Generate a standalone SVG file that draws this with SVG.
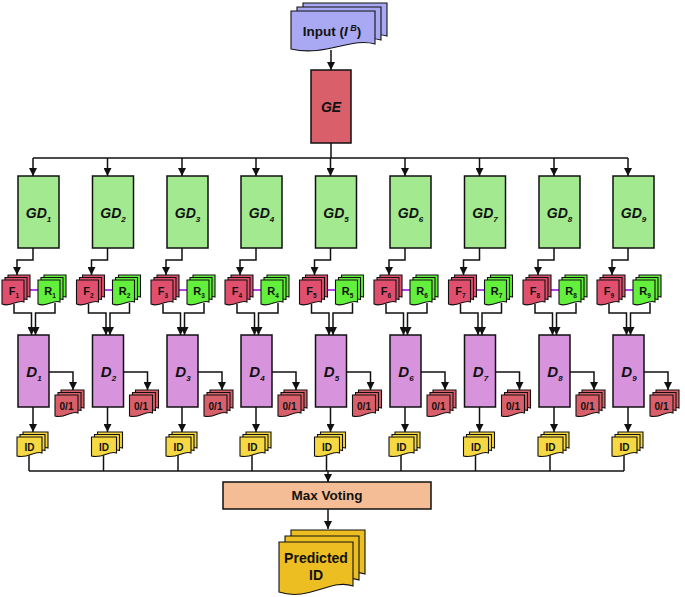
<svg xmlns="http://www.w3.org/2000/svg" xmlns:xlink="http://www.w3.org/1999/xlink" width="685" height="597" viewBox="0 0 685 597">
<style>
text{font-family:"Liberation Sans",Arial,sans-serif;font-weight:bold;fill:#111;text-anchor:middle}
.box{stroke:#111;stroke-width:1.5}
.gd{fill:#a3e98f}
.d{fill:#d793dc}
.lab{font-size:14px;font-style:italic}
.dl{font-size:15px;font-style:italic}
.sub{font-size:8px}
.fr{font-size:11px}
.fs{font-size:6.5px}
.sm{font-size:10px}
.con{fill:none;stroke:#111;stroke-width:1.5}
.pur{stroke:#b043e6;stroke-width:2}
.sh{stroke:#111;stroke-width:1.1}
</style>
<defs>
<marker id="ah" markerUnits="userSpaceOnUse" markerWidth="8" markerHeight="8" refX="8" refY="4" orient="auto">
<path d="M0,0 L8,4 L0,8 Z" fill="#111"/>
</marker>
<path id="sF" d="M0,0 H22 V22 C15,19 9,28 0,24 Z"/>
<path id="sZ" d="M0,0 H23 V18 C16,15 10,24 0,21 Z"/>
<path id="sI" d="M0,0 H25 V16 C18,13 11,22 0,19 Z"/>
<g id="fst" class="sh" fill="#e0506e">
<use xlink:href="#sF" x="6" y="-5"/><use xlink:href="#sF" x="3" y="-2.5"/><use xlink:href="#sF"/>
</g>
<g id="rst" class="sh" fill="#62f03c">
<use xlink:href="#sF" x="6" y="-5"/><use xlink:href="#sF" x="3" y="-2.5"/><use xlink:href="#sF"/>
</g>
<g id="zst" class="sh" fill="#d9606a">
<use xlink:href="#sZ" x="6" y="-5"/><use xlink:href="#sZ" x="3" y="-2.5"/><use xlink:href="#sZ"/>
</g>
<g id="ist" class="sh" fill="#f6d843">
<use xlink:href="#sI" x="6" y="-5"/><use xlink:href="#sI" x="3" y="-2.5"/><use xlink:href="#sI"/>
</g>
</defs>
<rect width="685" height="597" fill="#fff"/>

<g id="connectors">
<path class="con" d="M331,50 V70" marker-end="url(#ah)"/>
<path class="con" d="M331,143 V158 M33,158 H628"/>
<path class="con" d="M29,471 H624"/>
<path class="con" d="M328,471 V482" marker-end="url(#ah)"/>
<path class="con" d="M328,509 V529" marker-end="url(#ah)"/>
<!-- col1 -->
<path class="con" d="M33,158 V176" marker-end="url(#ah)"/>
<path class="con" d="M33,248 V260 H17 V275" marker-end="url(#ah)"/>
<path class="con" d="M14,304 V313 H31.5 V335" marker-end="url(#ah)"/>
<path class="con" d="M55,303 V313 H35.5 V335" marker-end="url(#ah)"/>
<path class="con" d="M49,372 H73 V390" marker-end="url(#ah)"/>
<path class="con" d="M33,407 V432" marker-end="url(#ah)"/>
<path class="con" d="M29,455 V471"/>
<line class="pur" x1="30" y1="290" x2="38" y2="290"/>
<!-- col2 -->
<path class="con" d="M107.5,158 V176" marker-end="url(#ah)"/>
<path class="con" d="M107.5,248 V260 H91.5 V275" marker-end="url(#ah)"/>
<path class="con" d="M88.5,304 V313 H106 V335" marker-end="url(#ah)"/>
<path class="con" d="M129.5,303 V313 H110 V335" marker-end="url(#ah)"/>
<path class="con" d="M123.5,372 H147.5 V390" marker-end="url(#ah)"/>
<path class="con" d="M107.5,407 V432" marker-end="url(#ah)"/>
<path class="con" d="M103.5,455 V471"/>
<line class="pur" x1="104.5" y1="290" x2="112.5" y2="290"/>
<!-- col3 -->
<path class="con" d="M182,158 V176" marker-end="url(#ah)"/>
<path class="con" d="M182,248 V260 H166 V275" marker-end="url(#ah)"/>
<path class="con" d="M163,304 V313 H180.5 V335" marker-end="url(#ah)"/>
<path class="con" d="M204,303 V313 H184.5 V335" marker-end="url(#ah)"/>
<path class="con" d="M198,372 H222 V390" marker-end="url(#ah)"/>
<path class="con" d="M182,407 V432" marker-end="url(#ah)"/>
<path class="con" d="M178,455 V471"/>
<line class="pur" x1="179" y1="290" x2="187" y2="290"/>
<!-- col4 -->
<path class="con" d="M256,158 V176" marker-end="url(#ah)"/>
<path class="con" d="M256,248 V260 H240 V275" marker-end="url(#ah)"/>
<path class="con" d="M237,304 V313 H254.5 V335" marker-end="url(#ah)"/>
<path class="con" d="M278,303 V313 H258.5 V335" marker-end="url(#ah)"/>
<path class="con" d="M272,372 H296 V390" marker-end="url(#ah)"/>
<path class="con" d="M256,407 V432" marker-end="url(#ah)"/>
<path class="con" d="M252,455 V471"/>
<line class="pur" x1="253" y1="290" x2="261" y2="290"/>
<!-- col5 -->
<path class="con" d="M330.5,158 V176" marker-end="url(#ah)"/>
<path class="con" d="M330.5,248 V260 H314.5 V275" marker-end="url(#ah)"/>
<path class="con" d="M311.5,304 V313 H329 V335" marker-end="url(#ah)"/>
<path class="con" d="M352.5,303 V313 H333 V335" marker-end="url(#ah)"/>
<path class="con" d="M346.5,372 H370.5 V390" marker-end="url(#ah)"/>
<path class="con" d="M330.5,407 V432" marker-end="url(#ah)"/>
<path class="con" d="M326.5,455 V471"/>
<line class="pur" x1="327.5" y1="290" x2="335.5" y2="290"/>
<!-- col6 -->
<path class="con" d="M405,158 V176" marker-end="url(#ah)"/>
<path class="con" d="M405,248 V260 H389 V275" marker-end="url(#ah)"/>
<path class="con" d="M386,304 V313 H403.5 V335" marker-end="url(#ah)"/>
<path class="con" d="M427,303 V313 H407.5 V335" marker-end="url(#ah)"/>
<path class="con" d="M421,372 H445 V390" marker-end="url(#ah)"/>
<path class="con" d="M405,407 V432" marker-end="url(#ah)"/>
<path class="con" d="M401,455 V471"/>
<line class="pur" x1="402" y1="290" x2="410" y2="290"/>
<!-- col7 -->
<path class="con" d="M479.5,158 V176" marker-end="url(#ah)"/>
<path class="con" d="M479.5,248 V260 H463.5 V275" marker-end="url(#ah)"/>
<path class="con" d="M460.5,304 V313 H478 V335" marker-end="url(#ah)"/>
<path class="con" d="M501.5,303 V313 H482 V335" marker-end="url(#ah)"/>
<path class="con" d="M495.5,372 H519.5 V390" marker-end="url(#ah)"/>
<path class="con" d="M479.5,407 V432" marker-end="url(#ah)"/>
<path class="con" d="M475.5,455 V471"/>
<line class="pur" x1="476.5" y1="290" x2="484.5" y2="290"/>
<!-- col8 -->
<path class="con" d="M554,158 V176" marker-end="url(#ah)"/>
<path class="con" d="M554,248 V260 H538 V275" marker-end="url(#ah)"/>
<path class="con" d="M535,304 V313 H552.5 V335" marker-end="url(#ah)"/>
<path class="con" d="M576,303 V313 H556.5 V335" marker-end="url(#ah)"/>
<path class="con" d="M570,372 H594 V390" marker-end="url(#ah)"/>
<path class="con" d="M554,407 V432" marker-end="url(#ah)"/>
<path class="con" d="M550,455 V471"/>
<line class="pur" x1="551" y1="290" x2="559" y2="290"/>
<!-- col9 -->
<path class="con" d="M628,158 V176" marker-end="url(#ah)"/>
<path class="con" d="M628,248 V260 H612 V275" marker-end="url(#ah)"/>
<path class="con" d="M609,304 V313 H626.5 V335" marker-end="url(#ah)"/>
<path class="con" d="M650,303 V313 H630.5 V335" marker-end="url(#ah)"/>
<path class="con" d="M644,372 H668 V390" marker-end="url(#ah)"/>
<path class="con" d="M628,407 V432" marker-end="url(#ah)"/>
<path class="con" d="M624,455 V471"/>
<line class="pur" x1="625" y1="290" x2="633" y2="290"/>
</g>

<g id="input">
<g class="sh" fill="#a8a8f3" stroke-width="1.3">
<path d="M303,3 H387 V36 C363,29 338,49 303,41 Z"/>
<path d="M297,7 H381 V40 C357,33 332,53 297,45 Z"/>
<path d="M291,11 H375 V44 C351,37 326,57 291,49 Z"/>
</g>
<text x="332" y="36" font-size="13.5">Input (<tspan font-style="italic">I</tspan><tspan font-style="italic" font-size="9" dy="-5"> B</tspan><tspan dy="5">)</tspan></text>
</g>

<g id="GE">
<rect class="box" x="311" y="70" width="40" height="73" fill="#d95f6b"/>
<text class="lab" x="331" y="112">GE</text>
</g>

<g id="GD1"><rect class="box gd" x="18" y="176" width="41" height="72"/><text class="lab" x="38.5" y="218">GD<tspan class="sub" dy="4">1</tspan></text></g>
<g id="GD2"><rect class="box gd" x="92.5" y="176" width="41" height="72"/><text class="lab" x="113" y="218">GD<tspan class="sub" dy="4">2</tspan></text></g>
<g id="GD3"><rect class="box gd" x="167" y="176" width="41" height="72"/><text class="lab" x="187.5" y="218">GD<tspan class="sub" dy="4">3</tspan></text></g>
<g id="GD4"><rect class="box gd" x="241" y="176" width="41" height="72"/><text class="lab" x="261.5" y="218">GD<tspan class="sub" dy="4">4</tspan></text></g>
<g id="GD5"><rect class="box gd" x="315.5" y="176" width="41" height="72"/><text class="lab" x="336" y="218">GD<tspan class="sub" dy="4">5</tspan></text></g>
<g id="GD6"><rect class="box gd" x="390" y="176" width="41" height="72"/><text class="lab" x="410.5" y="218">GD<tspan class="sub" dy="4">6</tspan></text></g>
<g id="GD7"><rect class="box gd" x="464.5" y="176" width="41" height="72"/><text class="lab" x="485" y="218">GD<tspan class="sub" dy="4">7</tspan></text></g>
<g id="GD8"><rect class="box gd" x="539" y="176" width="41" height="72"/><text class="lab" x="559.5" y="218">GD<tspan class="sub" dy="4">8</tspan></text></g>
<g id="GD9"><rect class="box gd" x="613" y="176" width="41" height="72"/><text class="lab" x="633.5" y="218">GD<tspan class="sub" dy="4">9</tspan></text></g>

<g id="F1"><use xlink:href="#fst" x="2" y="280"/><text class="fr" x="14" y="295">F<tspan class="fs" dy="3">1</tspan></text></g>
<g id="R1"><use xlink:href="#rst" x="38" y="280"/><text class="fr" x="50" y="295">R<tspan class="fs" dy="3">1</tspan></text></g>
<g id="F2"><use xlink:href="#fst" x="76.5" y="280"/><text class="fr" x="88.5" y="295">F<tspan class="fs" dy="3">2</tspan></text></g>
<g id="R2"><use xlink:href="#rst" x="112.5" y="280"/><text class="fr" x="124.5" y="295">R<tspan class="fs" dy="3">2</tspan></text></g>
<g id="F3"><use xlink:href="#fst" x="151" y="280"/><text class="fr" x="163" y="295">F<tspan class="fs" dy="3">3</tspan></text></g>
<g id="R3"><use xlink:href="#rst" x="187" y="280"/><text class="fr" x="199" y="295">R<tspan class="fs" dy="3">3</tspan></text></g>
<g id="F4"><use xlink:href="#fst" x="225" y="280"/><text class="fr" x="237" y="295">F<tspan class="fs" dy="3">4</tspan></text></g>
<g id="R4"><use xlink:href="#rst" x="261" y="280"/><text class="fr" x="273" y="295">R<tspan class="fs" dy="3">4</tspan></text></g>
<g id="F5"><use xlink:href="#fst" x="299.5" y="280"/><text class="fr" x="311.5" y="295">F<tspan class="fs" dy="3">5</tspan></text></g>
<g id="R5"><use xlink:href="#rst" x="335.5" y="280"/><text class="fr" x="347.5" y="295">R<tspan class="fs" dy="3">5</tspan></text></g>
<g id="F6"><use xlink:href="#fst" x="374" y="280"/><text class="fr" x="386" y="295">F<tspan class="fs" dy="3">6</tspan></text></g>
<g id="R6"><use xlink:href="#rst" x="410" y="280"/><text class="fr" x="422" y="295">R<tspan class="fs" dy="3">6</tspan></text></g>
<g id="F7"><use xlink:href="#fst" x="448.5" y="280"/><text class="fr" x="460.5" y="295">F<tspan class="fs" dy="3">7</tspan></text></g>
<g id="R7"><use xlink:href="#rst" x="484.5" y="280"/><text class="fr" x="496.5" y="295">R<tspan class="fs" dy="3">7</tspan></text></g>
<g id="F8"><use xlink:href="#fst" x="523" y="280"/><text class="fr" x="535" y="295">F<tspan class="fs" dy="3">8</tspan></text></g>
<g id="R8"><use xlink:href="#rst" x="559" y="280"/><text class="fr" x="571" y="295">R<tspan class="fs" dy="3">8</tspan></text></g>
<g id="F9"><use xlink:href="#fst" x="597" y="280"/><text class="fr" x="609" y="295">F<tspan class="fs" dy="3">9</tspan></text></g>
<g id="R9"><use xlink:href="#rst" x="633" y="280"/><text class="fr" x="645" y="295">R<tspan class="fs" dy="3">9</tspan></text></g>

<g id="D1"><rect class="box d" x="18" y="335" width="31" height="72"/><text class="dl" x="34" y="377">D<tspan class="sub" dy="4">1</tspan></text></g>
<g id="D2"><rect class="box d" x="92.5" y="335" width="31" height="72"/><text class="dl" x="108.5" y="377">D<tspan class="sub" dy="4">2</tspan></text></g>
<g id="D3"><rect class="box d" x="167" y="335" width="31" height="72"/><text class="dl" x="183" y="377">D<tspan class="sub" dy="4">3</tspan></text></g>
<g id="D4"><rect class="box d" x="241" y="335" width="31" height="72"/><text class="dl" x="257" y="377">D<tspan class="sub" dy="4">4</tspan></text></g>
<g id="D5"><rect class="box d" x="315.5" y="335" width="31" height="72"/><text class="dl" x="331.5" y="377">D<tspan class="sub" dy="4">5</tspan></text></g>
<g id="D6"><rect class="box d" x="390" y="335" width="31" height="72"/><text class="dl" x="406" y="377">D<tspan class="sub" dy="4">6</tspan></text></g>
<g id="D7"><rect class="box d" x="464.5" y="335" width="31" height="72"/><text class="dl" x="480.5" y="377">D<tspan class="sub" dy="4">7</tspan></text></g>
<g id="D8"><rect class="box d" x="539" y="335" width="31" height="72"/><text class="dl" x="555" y="377">D<tspan class="sub" dy="4">8</tspan></text></g>
<g id="D9"><rect class="box d" x="613" y="335" width="31" height="72"/><text class="dl" x="629" y="377">D<tspan class="sub" dy="4">9</tspan></text></g>

<g id="O1"><use xlink:href="#zst" x="55" y="395"/><text class="sm" x="66.5" y="410">0/1</text></g>
<g id="O2"><use xlink:href="#zst" x="129.5" y="395"/><text class="sm" x="141" y="410">0/1</text></g>
<g id="O3"><use xlink:href="#zst" x="204" y="395"/><text class="sm" x="215.5" y="410">0/1</text></g>
<g id="O4"><use xlink:href="#zst" x="278" y="395"/><text class="sm" x="289.5" y="410">0/1</text></g>
<g id="O5"><use xlink:href="#zst" x="352.5" y="395"/><text class="sm" x="364" y="410">0/1</text></g>
<g id="O6"><use xlink:href="#zst" x="427" y="395"/><text class="sm" x="438.5" y="410">0/1</text></g>
<g id="O7"><use xlink:href="#zst" x="501.5" y="395"/><text class="sm" x="513" y="410">0/1</text></g>
<g id="O8"><use xlink:href="#zst" x="576" y="395"/><text class="sm" x="587.5" y="410">0/1</text></g>
<g id="O9"><use xlink:href="#zst" x="650" y="395"/><text class="sm" x="661.5" y="410">0/1</text></g>

<g id="ID1"><use xlink:href="#ist" x="17" y="437"/><text class="sm" x="29.5" y="451">ID</text></g>
<g id="ID2"><use xlink:href="#ist" x="91.5" y="437"/><text class="sm" x="104" y="451">ID</text></g>
<g id="ID3"><use xlink:href="#ist" x="166" y="437"/><text class="sm" x="178.5" y="451">ID</text></g>
<g id="ID4"><use xlink:href="#ist" x="240" y="437"/><text class="sm" x="252.5" y="451">ID</text></g>
<g id="ID5"><use xlink:href="#ist" x="314.5" y="437"/><text class="sm" x="327" y="451">ID</text></g>
<g id="ID6"><use xlink:href="#ist" x="389" y="437"/><text class="sm" x="401.5" y="451">ID</text></g>
<g id="ID7"><use xlink:href="#ist" x="463.5" y="437"/><text class="sm" x="476" y="451">ID</text></g>
<g id="ID8"><use xlink:href="#ist" x="538" y="437"/><text class="sm" x="550.5" y="451">ID</text></g>
<g id="ID9"><use xlink:href="#ist" x="612" y="437"/><text class="sm" x="624.5" y="451">ID</text></g>

<g id="maxvoting">
<rect class="box" x="223" y="482" width="208" height="27" fill="#f5bd95"/>
<text x="327" y="500" font-size="13.5">Max Voting</text>
</g>

<g id="predicted">
<g class="sh" fill="#ecbe22" stroke-width="1.3">
<path d="M291,530 H365 V574 C343,566 321,590 291,580 Z"/>
<path d="M285,536 H359 V580 C337,572 315,596 285,586 Z"/>
<path d="M279,542 H353 V586 C331,578 309,602 279,592 Z"/>
</g>
<text x="316" y="563" font-size="14">Predicted</text>
<text x="316" y="580" font-size="14">ID</text>
</g>
</svg>
